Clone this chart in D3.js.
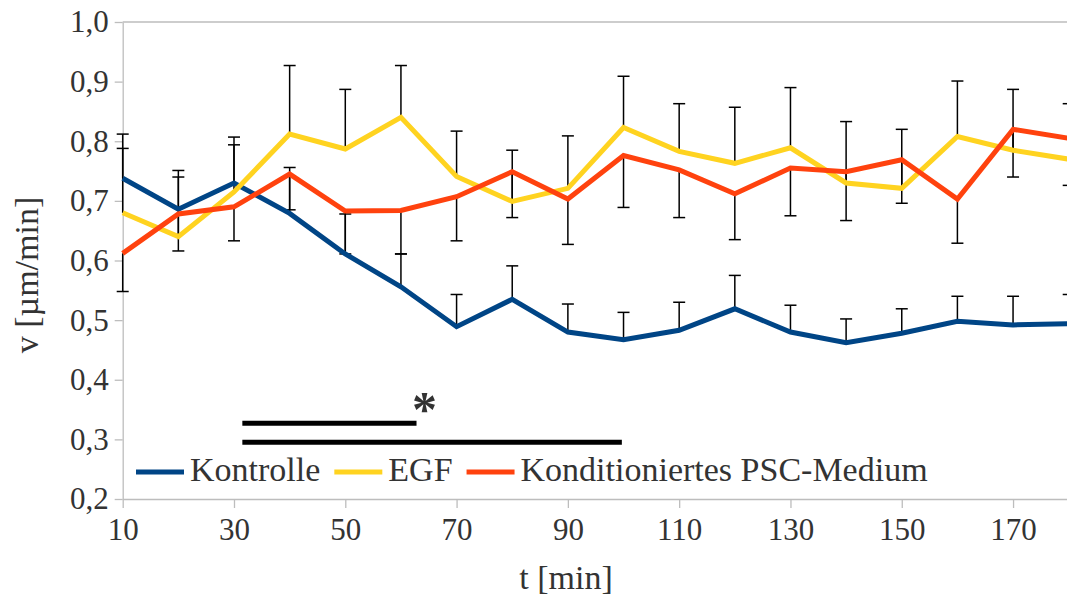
<!DOCTYPE html>
<html>
<head>
<meta charset="utf-8">
<script src="https://cdn.jsdelivr.net/npm/d3@7"></script>
<style>
  html, body { margin: 0; padding: 0; background: #ffffff; }
  svg { display: block; }
  text { font-family: "Liberation Serif", "Times New Roman", serif; fill: #333333; }
</style>
</head>
<body>
<svg id="chart" width="1067" height="601"></svg>
<script>
// Time points (min)
const times = [10, 20, 30, 40, 50, 60, 70, 80, 90, 100, 110, 120, 130, 140, 150, 160, 170, 180];

// Mean migration speed (µm/min) per condition
const kontrolle = [0.738, 0.686, 0.730, 0.679, 0.611, 0.556, 0.489, 0.535, 0.480, 0.467, 0.483, 0.519, 0.480, 0.462, 0.478, 0.498, 0.492, 0.494];
const egf       = [0.680, 0.640, 0.715, 0.812, 0.787, 0.840, 0.741, 0.699, 0.721, 0.823, 0.783, 0.763, 0.789, 0.730, 0.721, 0.808, 0.785, 0.770];
const psc       = [0.612, 0.678, 0.690, 0.745, 0.683, 0.684, 0.707, 0.749, 0.703, 0.776, 0.752, 0.712, 0.755, 0.749, 0.769, 0.703, 0.820, 0.805];

// Error magnitudes (drawn one-sided: Kontrolle and EGF upward, PSC downward)
const kontrolleErr = [0.074, 0.054, 0.064, 0.077, 0.067, 0.055, 0.054, 0.056, 0.047, 0.046, 0.047, 0.056, 0.045, 0.040, 0.041, 0.042, 0.048, 0.049];
const egfErr       = [0.108, 0.111, 0.092, 0.115, 0.100, 0.087, 0.076, 0.086, 0.088, 0.086, 0.080, 0.094, 0.101, 0.103, 0.099, 0.093, 0.102, 0.093];
const pscErr       = [0.064, 0.062, 0.057, 0.060, 0.072, 0.073, 0.074, 0.077, 0.076, 0.087, 0.080, 0.077, 0.080, 0.082, 0.073, 0.074, 0.080, 0.079];

const seriesNames = ["Kontrolle", "EGF", "Konditioniertes PSC-Medium"];

// Axis ticks
const xTicks = [10, 30, 50, 70, 90, 110, 130, 150, 170];
const yTicks = [0.2, 0.3, 0.4, 0.5, 0.6, 0.7, 0.8, 0.9, 1.0];

// Significance brackets: [start time, end time, level]
const sigStart = [31.5, 31.5];
const sigEnd   = [62.8, 99.7];
const sigLevel = [0.327, 0.295];
const sigMark  = "*";

const colors = ["#004586", "#ffd320", "#ff420e"];

const svg = d3.select("#chart");

const x = d3.scaleLinear().domain([10, 180]).range([122.7, 1068.7]);
const y = d3.scaleLinear().domain([0.2, 1.0]).range([499, 22]);

const comma = d3.formatLocale({ decimal: ",", thousands: ".", grouping: [3], currency: ["", ""] }).format(".1f");

// Top frame line
svg.append("line")
  .attr("x1", x(10)).attr("x2", 1067)
  .attr("y1", y(1.0)).attr("y2", y(1.0))
  .attr("stroke", "#bdbdbd").attr("stroke-width", 1.3);

// Y axis
const yAxis = svg.append("g")
  .attr("transform", `translate(${x(10)},0)`)
  .call(d3.axisLeft(y).tickValues(yTicks).tickFormat(comma).tickSize(8).tickSizeOuter(0).tickPadding(6));

// X axis
const xAxis = svg.append("g")
  .attr("transform", `translate(0,${y(0.2)})`)
  .call(d3.axisBottom(x).tickValues(xTicks).tickFormat(d3.format("d")).tickSize(9).tickSizeOuter(0).tickPadding(10));

[yAxis, xAxis].forEach(g => {
  g.select(".domain").attr("stroke", "#bdbdbd").attr("stroke-width", 1.3);
  g.selectAll(".tick line").attr("stroke", "#bdbdbd").attr("stroke-width", 1.3);
  g.selectAll(".tick text")
    .attr("fill", "#333333")
    .style("font-family", '"Liberation Serif", serif')
    .style("font-size", "31px");
});

// Axis titles
svg.append("text")
  .attr("x", 566).attr("y", 589)
  .attr("text-anchor", "middle")
  .style("font-size", "34px")
  .text("t [min]");

svg.append("text")
  .attr("transform", "translate(38,275) rotate(-90)")
  .attr("text-anchor", "middle")
  .style("font-size", "34px")
  .text("v [µm/min]");

// Error bars (under the lines)
const seriesData = [
  { values: kontrolle, err: kontrolleErr, dir: 1 },
  { values: egf, err: egfErr, dir: 1 },
  { values: psc, err: pscErr, dir: -1 }
];

const capHalf = 6;
const errG = svg.append("g").attr("stroke", "#000000").attr("stroke-width", 1.5);
seriesData.forEach(s => {
  const pts = times.map((t, i) => ({ t, v: s.values[i], e: s.values[i] + s.dir * s.err[i] }));
  errG.selectAll(null).data(pts).enter().append("line")
    .attr("x1", d => x(d.t)).attr("x2", d => x(d.t))
    .attr("y1", d => y(d.v)).attr("y2", d => y(d.e));
  errG.selectAll(null).data(pts).enter().append("line")
    .attr("x1", d => x(d.t) - capHalf).attr("x2", d => x(d.t) + capHalf)
    .attr("y1", d => y(d.e)).attr("y2", d => y(d.e));
});

// Series lines
const line = d3.line().x(d => x(d[0])).y(d => y(d[1]));
seriesData.forEach((s, k) => {
  svg.append("path")
    .datum(times.map((t, i) => [t, s.values[i]]))
    .attr("d", line)
    .attr("fill", "none")
    .attr("stroke", colors[k])
    .attr("stroke-width", 5)
    .attr("stroke-linejoin", "miter");
});

// Significance brackets
sigStart.forEach((s, i) => {
  svg.append("line")
    .attr("x1", x(s)).attr("x2", x(sigEnd[i]))
    .attr("y1", y(sigLevel[i])).attr("y2", y(sigLevel[i]))
    .attr("stroke", "#000000").attr("stroke-width", 5);
});
svg.append("text")
  .attr("x", x(sigEnd[0]) + 8).attr("y", y(sigLevel[0]) + 3)
  .attr("text-anchor", "middle")
  .style("font-size", "50px")
  .style("font-weight", "bold")
  .attr("fill", "#333333")
  .text(sigMark);

// Legend
const legend = svg.append("g");
let lx = 136;
const ly = 472;
seriesNames.forEach((name, k) => {
  legend.append("line")
    .attr("x1", lx).attr("x2", lx + 48)
    .attr("y1", ly).attr("y2", ly)
    .attr("stroke", colors[k]).attr("stroke-width", 5);
  const t = legend.append("text")
    .attr("x", lx + 54).attr("y", ly + 9)
    .style("font-size", "34px")
    .text(name);
  lx = lx + 54 + t.node().getComputedTextLength() + 14;
});
</script>
</body>
</html>
